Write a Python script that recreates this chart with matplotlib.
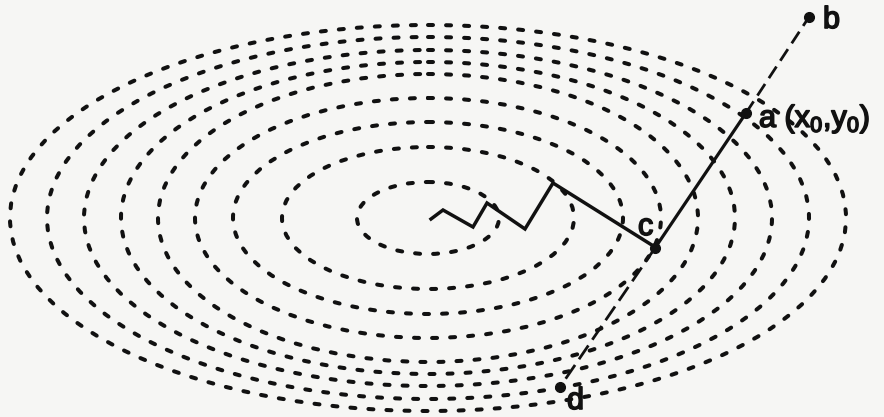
import matplotlib
matplotlib.use("Agg")
import matplotlib.pyplot as plt
import matplotlib.patheffects as pe
from matplotlib.patches import Ellipse

plt.rcParams["lines.scale_dashes"] = False
plt.rcParams["mathtext.fontset"] = "custom"
plt.rcParams["mathtext.rm"] = "Liberation Sans"

# Contour ellipses of the objective, centred on the minimum (pixel-like units)
centre = (428, 218)
semi_x = [71, 146, 195, 233, 270, 307, 344, 381, 418]
semi_y = [36, 71, 96, 120, 144, 156, 168, 181, 193]

# Search path that zigzags from c toward the minimum
path_x = [655, 553, 525, 487, 473, 443, 431]
path_y = [247, 183, 229, 203, 227, 210, 219]

# Points along the search direction
pt_names = ["b", "a", "c", "d"]
pt_x = [809, 746, 655, 560]
pt_y = [17, 113, 248, 387]

ink = "#111111"
paper = "#f6f6f4"

fig = plt.figure(figsize=(8.84, 4.17), dpi=100, facecolor=paper)
ax = fig.add_axes([0, 0, 1, 1])
ax.set_facecolor(paper)
ax.set_xlim(0, 884)
ax.set_ylim(417, 0)
ax.axis("off")

for a, b in zip(semi_x, semi_y):
    e = Ellipse(centre, 2 * a, 2 * b, fill=False, edgecolor=ink,
                linewidth=2.9, linestyle=(0, (3.6, 9.4)))
    e.set_capstyle("round")
    ax.add_patch(e)

# zigzag path
ax.plot(path_x, path_y, color=ink, lw=2.5, solid_joinstyle="miter")

# solid step from a to c
ax.plot([pt_x[1], pt_x[2]], [pt_y[1], pt_y[2]], color=ink, lw=2.3)
# dashed extensions a->b and c->d
ax.plot([pt_x[1], pt_x[0]], [pt_y[1], pt_y[0]], color=ink, lw=2.0,
        linestyle=(0, (10, 5)))
ax.plot([pt_x[2], pt_x[3]], [pt_y[2], pt_y[3]], color=ink, lw=2.0,
        linestyle=(0, (12, 5)))

ax.plot(pt_x, pt_y, "o", color=ink, markersize=7, zorder=5)

heavy = [pe.withStroke(linewidth=1.2, foreground=ink)]
font = dict(family="Liberation Sans", fontsize=22, color=ink,
            path_effects=heavy)
ax.text(823, 28, "b", va="baseline", **font)
ax.text(759, 127, r"a (x$_\mathregular{0}$,y$_\mathregular{0}$)",
        va="baseline", **font)
ax.text(638, 235, "c", va="baseline", **font)
ax.text(567, 416, "d", va="bottom", **font)

fig.savefig("out.png", dpi=100, facecolor=paper)
